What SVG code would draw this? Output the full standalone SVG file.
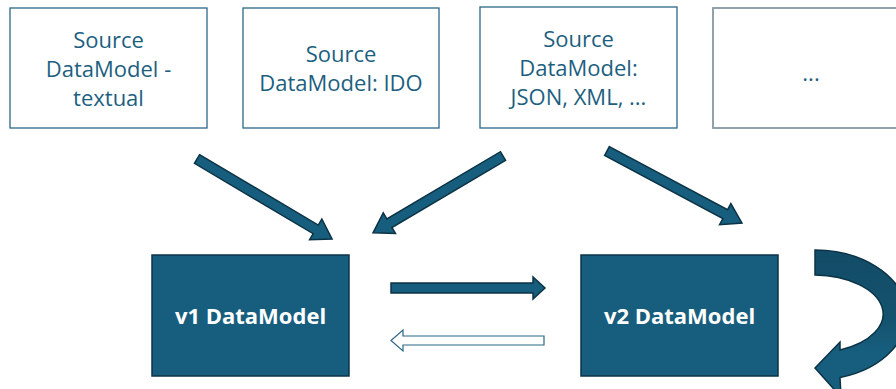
<svg xmlns="http://www.w3.org/2000/svg" width="896" height="389" viewBox="0 0 896 389">
  <defs>
    <style>
      .src { fill: #ffffff; stroke: #2b6886; stroke-width: 1.3; }
      .src-more { fill: #ffffff; stroke: #8798a2; stroke-width: 1.8; }
      .src-text { font-family: "Open Sans", "Liberation Sans", sans-serif; font-size: 22px; fill: #1d5f7f; text-anchor: middle; }
      .model { fill: #175e7e; stroke: #0d3548; stroke-width: 1.5; }
      .model-text { font-family: "Open Sans", "Liberation Sans", sans-serif; font-size: 22px; font-weight: bold; fill: #ffffff; text-anchor: middle; }
      .block-arrow { fill: #175e7e; stroke: #0c3345; stroke-width: 1.5; stroke-linejoin: miter; }
      .hollow-arrow { fill: #ffffff; stroke: #2b6886; stroke-width: 1.2; }
    </style>
    <linearGradient id="loopShade" x1="0" y1="0" x2="0" y2="1">
      <stop offset="0" stop-color="#124b66"/>
      <stop offset="0.45" stop-color="#14526e"/>
      <stop offset="0.7" stop-color="#175e7e"/>
      <stop offset="1" stop-color="#175e7e"/>
    </linearGradient>
  </defs>

  <!-- source data models -->
  <g id="src-textual">
    <rect class="src" x="10" y="8" width="197" height="120"/>
    <text class="src-text" x="108.5" y="48">Source</text>
    <text class="src-text" x="108.5" y="77">DataModel -</text>
    <text class="src-text" x="108.5" y="106">textual</text>
  </g>
  <g id="src-ido">
    <rect class="src" x="243" y="8" width="196" height="120"/>
    <text class="src-text" x="341" y="62">Source</text>
    <text class="src-text" x="341" y="91">DataModel: IDO</text>
  </g>
  <g id="src-json-xml">
    <rect class="src" x="480" y="7" width="197" height="121"/>
    <text class="src-text" x="578.5" y="47">Source</text>
    <text class="src-text" x="578.5" y="76">DataModel:</text>
    <text class="src-text" x="578.5" y="105">JSON, XML, ...</text>
  </g>
  <g id="src-more">
    <rect class="src-more" x="713" y="8" width="200" height="120"/>
    <text class="src-text" x="811" y="81">...</text>
  </g>

  <!-- versioned data models -->
  <g id="v1">
    <rect class="model" x="152" y="255" width="197" height="121"/>
    <text class="model-text" x="250.5" y="324">v1 DataModel</text>
  </g>
  <g id="v2">
    <rect class="model" x="581" y="255" width="197" height="121"/>
    <text class="model-text" x="679.5" y="324">v2 DataModel</text>
  </g>

  <!-- connectors -->
  <g id="connectors">
    <!-- textual source into v1 -->
    <path class="block-arrow" transform="translate(197,159) rotate(30.65)" d="M0,-5 H138 V-12 L157,0 L138,12 V5 H0 Z"/>
    <!-- IDO source into v1 -->
    <path class="block-arrow" transform="translate(503,156) rotate(149.4)" d="M0,-5 H132 V-12 L151,0 L132,12 V5 H0 Z"/>
    <!-- JSON/XML source into v2 -->
    <path class="block-arrow" transform="translate(607,151) rotate(28.1)" d="M0,-5 H134 V-12 L153,0 L134,12 V5 H0 Z"/>
    <!-- v1 to v2 -->
    <path class="block-arrow" d="M391,283 H533 V277 L545,288 L533,299 V293 H391 Z"/>
    <!-- v2 back to v1 -->
    <path class="hollow-arrow" d="M544,336 H403 V330 L391,340.5 L403,351 V345 H544 Z"/>
    <!-- v2 loop -->
    <path class="block-arrow" style="fill:url(#loopShade)" d="M815,250 A92,65 0 0 1 840,377.5 L841,397 L815,368 L840,342 L840,350 A70,39 0 0 0 815,275 Z"/>
  </g>
</svg>
